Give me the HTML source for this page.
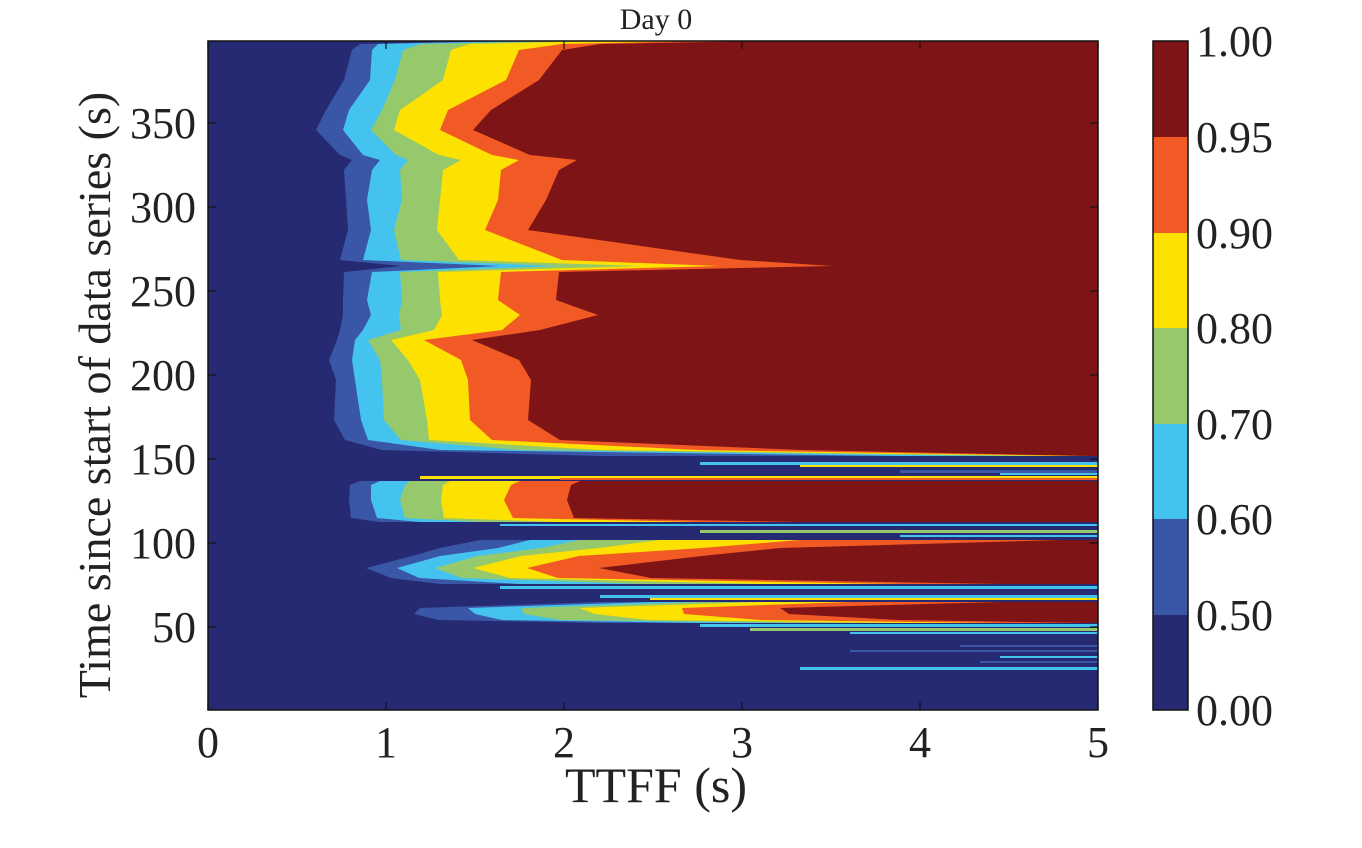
<!DOCTYPE html>
<html><head><meta charset="utf-8"><style>
html,body{margin:0;padding:0;background:#fff;}
svg text{font-family:"Liberation Serif",serif;fill:#222;}
</style></head><body>
<svg id="s" width="1362" height="843" xmlns="http://www.w3.org/2000/svg">
<rect x="0" y="0" width="1362" height="843" fill="#fff"/>
<rect x="208" y="41" width="890" height="669" fill="#262a73"/>
<g id="plot"></g>
<rect x="208" y="41" width="890" height="669" fill="none" stroke="#111" stroke-width="1.5"/>
<g id="ticks" stroke="#111" stroke-width="1.2"></g>
<g font-size="44" text-anchor="middle">
<text x="208" y="757">0</text><text x="386" y="757">1</text><text x="564" y="757">2</text><text x="742" y="757">3</text><text x="920" y="757">4</text><text x="1098" y="757">5</text>
</g>
<g font-size="44" text-anchor="end">
<text x="196" y="642">50</text><text x="196" y="558">100</text><text x="196" y="474">150</text><text x="196" y="390">200</text><text x="196" y="306">250</text><text x="196" y="222">300</text><text x="196" y="138">350</text>
</g>
<text x="656" y="802" font-size="50" text-anchor="middle">TTFF (s)</text>
<text transform="translate(110,395) rotate(-90)" font-size="46" text-anchor="middle">Time since start of data series (s)</text>
<text x="656" y="29" font-size="30" text-anchor="middle">Day 0</text>
<g>
<rect x="1153" y="41" width="35" height="96" fill="#7f1416"/>
<rect x="1153" y="137" width="35" height="96" fill="#f15a24"/>
<rect x="1153" y="233" width="35" height="95" fill="#fde100"/>
<rect x="1153" y="328" width="35" height="96" fill="#96c96b"/>
<rect x="1153" y="424" width="35" height="95" fill="#45c3ef"/>
<rect x="1153" y="519" width="35" height="96" fill="#3a56a6"/>
<rect x="1153" y="615" width="35" height="95" fill="#262a73"/>
<rect x="1153" y="41" width="35" height="669" fill="none" stroke="#111" stroke-width="1.5"/>
</g>
<g font-size="44">
<text x="1196" y="56">1.00</text><text x="1196" y="152">0.95</text><text x="1196" y="248">0.90</text><text x="1196" y="343">0.80</text><text x="1196" y="439">0.70</text><text x="1196" y="534">0.60</text><text x="1196" y="630">0.50</text><text x="1196" y="725">0.00</text>
</g>
</svg>
<script>
var C=["#3a56a6","#45c3ef","#96c96b","#fde100","#f15a24","#7f1416"];
var g=document.getElementById("plot"),NS="http://www.w3.org/2000/svg";
function blob(rows){
 for(var k=0;k<6;k++){
  var pts=[];
  for(var i=0;i<rows.length;i++){
   var x=Math.min(rows[i][k+1],1098);
   var j=(i*7+k*3)%5-2;
   if(i>0&&i<rows.length-1)x+=j;
   pts.push(x+","+rows[i][0]);
  }
  pts.push("1098,"+rows[rows.length-1][0]);pts.push("1098,"+rows[0][0]);
  var p=document.createElementNS(NS,"polygon");p.setAttribute("points",pts.join(" "));p.setAttribute("fill",C[k]);g.appendChild(p);
 }
}
function streak(y,h,x,c){var r=document.createElementNS(NS,"rect");r.setAttribute("x",x);r.setAttribute("y",y);r.setAttribute("width",1098-x);r.setAttribute("height",h);r.setAttribute("fill",c);g.appendChild(r);}
blob([[41,480,520,560,600,700,760],[44,360,380,420,470,560,600],[50,350,372,405,450,520,560],[80,345,368,395,445,505,540],[110,325,350,380,400,450,490],[130,318,342,372,392,440,475],[155,340,365,395,440,490,530],[160,350,380,410,460,520,575],[170,345,370,400,445,500,560],[200,345,368,400,440,500,545],[230,350,370,395,435,485,530],[260,340,365,400,460,560,740],[266,400,500,560,640,720,830],[272,345,370,400,440,500,560],[300,342,368,400,440,500,555],[315,345,370,400,440,520,600],[330,340,365,400,435,500,540],[340,335,355,370,390,425,470],[360,330,350,380,410,460,520],[380,335,356,380,420,470,530],[420,336,360,385,425,470,530],[440,345,370,400,430,490,560],[450,380,440,520,600,700,800],[456,600,900,1000,1050,1080,1090]]);
streak(462,3,700,"#45c3ef");streak(465,2,800,"#fde100");streak(470,3,900,"#3a56a6");streak(473,2,1000,"#45c3ef");streak(476,3,420,"#fde100");streak(478,2,560,"#f15a24");
blob([[481,360,380,410,450,520,580],[485,350,373,404,444,509,571],[500,347,371,402,440,505,565],[518,352,375,405,446,512,575],[522,380,420,480,560,700,800]]);
streak(524,2,500,"#45c3ef");streak(530,3,700,"#96c96b");streak(535,2,900,"#45c3ef");
blob([[540,480,530,580,660,800,1060],[548,440,500,540,600,700,780],[556,410,440,480,520,580,700],[568,367,395,435,475,526,600],[578,390,420,460,510,560,650],[584,440,520,640,760,900,1000]]);
streak(586,3,500,"#45c3ef");streak(595,3,600,"#45c3ef");streak(598,2,650,"#fde100");
blob([[602,600,650,700,760,850,1000],[608,420,470,520,580,680,780],[614,412,475,526,594,685,787],[620,440,500,560,650,760,900],[623,600,700,800,900,1000,1090]]);
streak(624,3,700,"#45c3ef");streak(628,3,750,"#96c96b");streak(632,2,850,"#45c3ef");
streak(645,2,960,"#3a56a6");streak(650,2,850,"#3a56a6");streak(656,2,1000,"#45c3ef");streak(661,2,980,"#3a56a6");streak(667,3,800,"#45c3ef");
var t=document.getElementById("ticks");
function ln(a,b,c,d){var l=document.createElementNS(NS,"line");l.setAttribute("x1",a);l.setAttribute("y1",b);l.setAttribute("x2",c);l.setAttribute("y2",d);t.appendChild(l);}
for(var i=0;i<=5;i++){var x=208+178*i;ln(x,710,x,702);ln(x,41,x,49);}
for(var v=50;v<=350;v+=50){var y=711-v*1.68;ln(208,y,216,y);ln(1098,y,1090,y);}
</script>
</body></html>
